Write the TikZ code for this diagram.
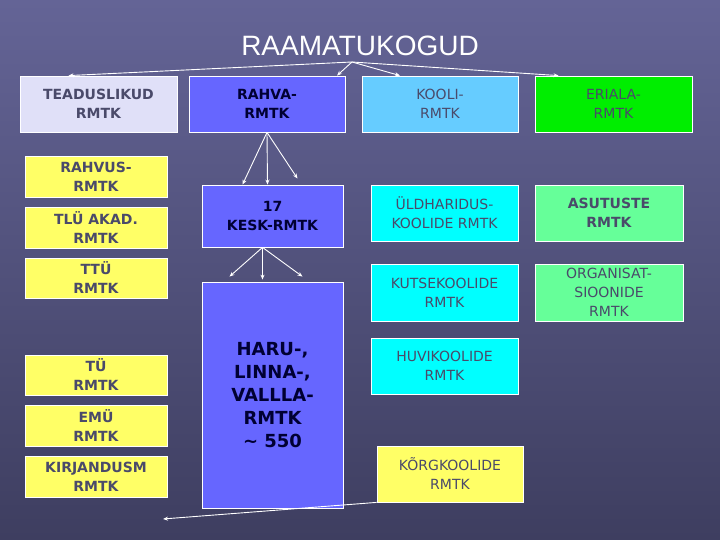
\documentclass[tikz,border=0pt]{standalone}
\usepackage{fontspec}
\usetikzlibrary{arrows.meta}
\setmainfont{DejaVu Sans}
\newfontfamily\titlef{Liberation Sans}
\definecolor{bgtop}{HTML}{646496}
\definecolor{bgbot}{HTML}{3E3E60}
\definecolor{lav}{HTML}{E0E0F8}
\definecolor{blu}{HTML}{6666FF}
\definecolor{sky}{HTML}{66CCFF}
\definecolor{grn}{HTML}{00EE00}
\definecolor{yel}{HTML}{FFFF66}
\definecolor{cya}{HTML}{00FFFF}
\definecolor{lgr}{HTML}{66FF99}
\definecolor{txg}{HTML}{4A4A6A}
\newcommand{\bx}[7]{\node[bxs,#6,minimum width={(#4-#2)*1pt},minimum height={(#5-#3)*1pt}] (#1) at ({(#2+#4)/2*1pt},{(540-(#3+#5)/2)*1pt}) {#7};}
\begin{document}
\begin{tikzpicture}[x=1pt,y=1pt,
 bxs/.style={draw=white,line width=0.8pt,inner sep=1pt,align=center,font=\fontsize{14}{19}\selectfont},
 bd/.style={font=\fontsize{14}{19}\selectfont\bfseries},
 arr/.style={draw=white,line width=0.9pt,-{Stealth[length=5pt,width=4pt]}}]
\shade[top color=bgtop,bottom color=bgbot] (0,0) rectangle (720,540);
\useasboundingbox (0,0) rectangle (720,540);
\node[text=white,font=\titlef\fontsize{28}{32}\selectfont] (title) at (360,494) {RAAMATUKOGUD};
\coordinate (tb) at (352,478);
\bx{tea}{20}{76}{177}{132}{fill=lav,text=txg,bd}{TEADUSLIKUD\\RMTK}
\bx{rah}{189}{76}{345}{132}{fill=blu,text=black!80!blue,bd}{RAHVA-\\RMTK}
\bx{koo}{362}{76}{518}{132}{fill=sky,text=txg}{KOOLI-\\RMTK}
\bx{eri}{535}{76}{692}{132}{fill=grn,text=txg}{ERIALA-\\RMTK}
\bx{rvs}{25}{156}{167}{197}{fill=yel,text=txg,bd}{RAHVUS-\\RMTK}
\bx{tlu}{25}{207}{167}{248}{fill=yel,text=txg,bd}{TLÜ AKAD.\\RMTK}
\bx{ttu}{25}{258}{167}{298}{fill=yel,text=txg,bd}{TTÜ\\RMTK}
\bx{tu}{25}{355}{167}{395}{fill=yel,text=txg,bd}{TÜ\\RMTK}
\bx{emu}{25}{405}{167}{446}{fill=yel,text=txg,bd}{EMÜ\\RMTK}
\bx{kir}{25}{456}{167}{497}{fill=yel,text=txg,bd}{KIRJANDUSM\\RMTK}
\bx{kes}{202}{185}{343}{247}{fill=blu,text=black!80!blue,bd}{17\\KESK-RMTK}
\bx{har}{202}{282}{343}{508}{fill=blu,text=black!80!blue,font=\fontsize{18}{23}\selectfont\bfseries}{HARU-,\\LINNA-,\\VALLLA-\\RMTK\\\textasciitilde{} 550}
\bx{uld}{371}{185}{518}{241}{fill=cya,text=txg}{ÜLDHARIDUS-\\KOOLIDE RMTK}
\bx{kut}{371}{264}{518}{321}{fill=cya,text=txg}{KUTSEKOOLIDE\\RMTK}
\bx{huv}{371}{338}{518}{394}{fill=cya,text=txg}{HUVIKOOLIDE\\RMTK}
\bx{kor}{377}{446}{523}{502}{fill=yel,text=txg}{KÕRGKOOLIDE\\RMTK}
\bx{asu}{535}{185}{683}{241}{fill=lgr,text=txg,bd}{ASUTUSTE\\RMTK}
\bx{org}{535}{264}{683}{321}{fill=lgr,text=txg}{ORGANISAT-\\SIOONIDE\\RMTK}
\draw[arr] (tb) -- ([xshift=-30pt]tea.north);
\draw[arr] (tb) -- ([xshift=70pt]rah.north);
\draw[arr] (tb) -- ([xshift=-40pt]koo.north);
\draw[arr] (tb) -- ([xshift=-55pt]eri.north);
\draw[arr] (rah.south) -- ([xshift=-30pt]kes.north);
\draw[arr] (rah.south) -- ([xshift=-5pt]kes.north);
\draw[arr] (rah.south) -- ([xshift=25pt,yshift=6pt]kes.north);
\draw[arr] ([xshift=-10pt]kes.south) -- ([xshift=-43pt,yshift=5pt]har.north);
\draw[arr] ([xshift=-10pt]kes.south) -- ([xshift=-10pt,yshift=2pt]har.north);
\draw[arr] ([xshift=-10pt]kes.south) -- ([xshift=30pt,yshift=5pt]har.north);
\coordinate (bl) at (163,21);
\draw[arr] (kor.south west) -- (bl);
\end{tikzpicture}
\end{document}
